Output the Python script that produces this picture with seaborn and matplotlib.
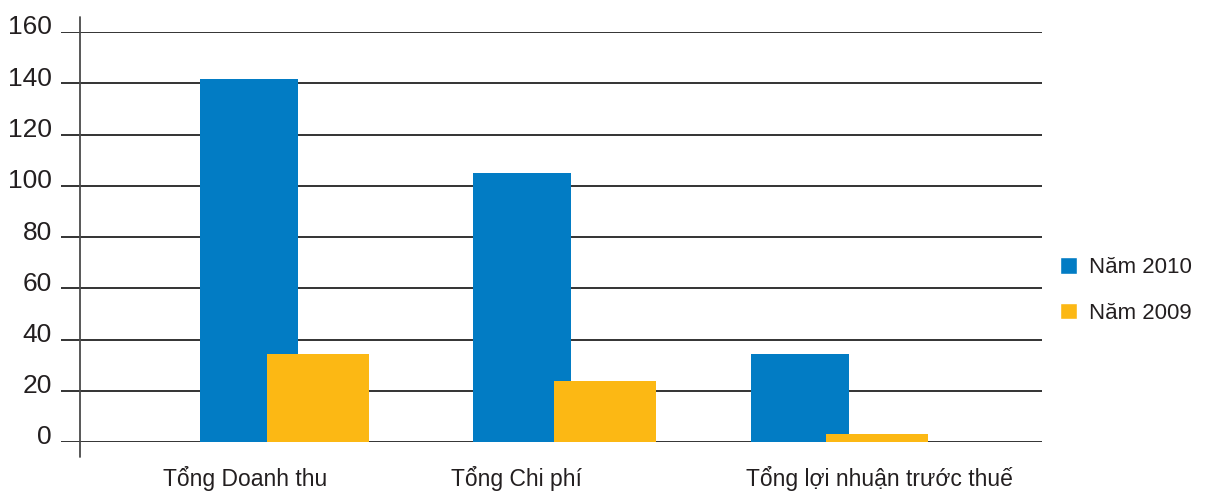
import matplotlib
matplotlib.use("Agg")
import matplotlib.pyplot as plt
import matplotlib.transforms as mtransforms
from matplotlib.lines import Line2D
import seaborn as sns
import pandas as pd

categories = ["Tổng Doanh thu", "Tổng Chi phí", "Tổng lợi nhuận trước thuế"]
series_names = ["Năm 2010", "Năm 2009"]
values_2010 = [141.5, 105.0, 34.5]
values_2009 = [34.3, 23.8, 3.3]
y_ticks = [0, 20, 40, 60, 80, 100, 120, 140, 160]

colors = {"Năm 2010": "#027CC4", "Năm 2009": "#FCB814"}

df = pd.DataFrame({
    "category": categories * 2,
    "series": [series_names[0]] * 3 + [series_names[1]] * 3,
    "value": values_2010 + values_2009,
})

sns.set_theme(style="white")
plt.rcParams["font.family"] = ["Liberation Sans", "DejaVu Sans"]

DPI = 100
fig = plt.figure(figsize=(12.1, 4.95), dpi=DPI)
L, R, B, T = 61 / 1210, 1042 / 1210, (495 - 442) / 495, (495 - 32) / 495
ax = fig.add_axes([L, B, R - L, T - B])

sns.barplot(data=df, x="category", y="value", hue="series", order=categories,
            hue_order=series_names, palette=colors, width=0.55, dodge=True,
            saturation=1, errorbar=None, ax=ax, legend=True, zorder=3)

# widen bars so they overlap like the original (style: width and small per-group nudges, px)
widths = {series_names[0]: 0.353, series_names[1]: 0.368}
nudges_px = {series_names[0]: [3.5, -0.5, -0.5], series_names[1]: [-3.5, 6.0, 0.5]}
px_per_unit = 981 / (2.734 + 0.801)
for cont, name in zip(ax.containers, series_names):
    for p, nd in zip(cont.patches, nudges_px[name]):
        cx = p.get_x() + p.get_width() / 2 + nd / px_per_unit
        w = widths[name]
        p.set_x(cx - w / 2)
        p.set_width(w)
        p.set_linewidth(0)

ax.set_xlim(-0.801, 2.734)
ax.set_ylim(0, 160)
ax.set_yticks(y_ticks)
ax.set_yticklabels([str(v) for v in y_ticks])
ax.set_xlabel("")
ax.set_ylabel("")

for s in ax.spines.values():
    s.set_visible(False)

ax.yaxis.grid(True, color="#333333", linewidth=1.4, zorder=1)
ax.set_axisbelow(True)
ax.xaxis.grid(False)

ax.tick_params(axis="y", length=0, pad=6.5, labelsize=19, labelcolor="#231f20")
ax.tick_params(axis="x", length=0, pad=17.5, labelsize=16.5, labelcolor="#231f20")

for lab in ax.get_yticklabels():
    lab.set_verticalalignment("baseline")
    lab.set_transform(lab.get_transform() +
                      mtransforms.ScaledTranslation(0, -2.5 / DPI, fig.dpi_scale_trans))

x_offsets_px = [-37.75, -44.75, 40.75]
for lab, off in zip(ax.get_xticklabels(), x_offsets_px):
    lab.set_transform(lab.get_transform() +
                      mtransforms.ScaledTranslation(off / DPI, 0, fig.dpi_scale_trans))

# vertical axis line
ax_x = (80 - 61) / 981
ax.add_line(Line2D([ax_x, ax_x], [-15 / 410, 1 + 15 / 410], transform=ax.transAxes,
                   color="#4a4a4a", linewidth=1.3, clip_on=False, zorder=4))

handles, labels = ax.get_legend_handles_labels()
ax.get_legend().remove()
fig.legend(handles, labels, loc="center left",
           bbox_to_anchor=(1060 / 1210, 1 - 290.5 / 495), frameon=False,
           fontsize=16, handlelength=0.77, handleheight=0.77, handletextpad=0.55,
           labelspacing=1.1, borderpad=0, borderaxespad=0,
           labelcolor="#231f20")

fig.savefig("out.png", dpi=DPI)
